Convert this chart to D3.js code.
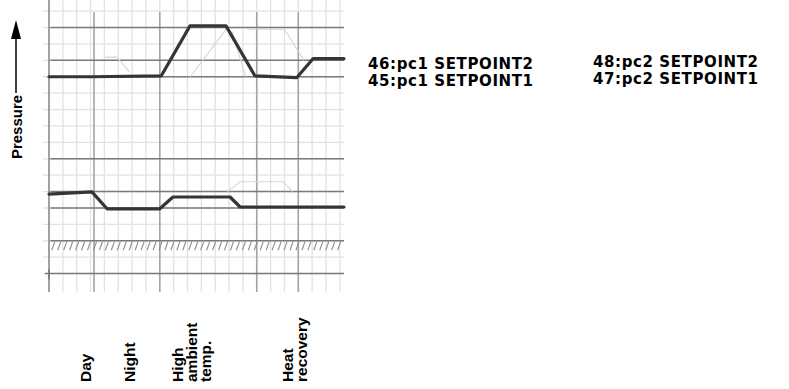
<!DOCTYPE html>
<html>
<head>
<meta charset="utf-8">
<script src="https://cdn.jsdelivr.net/npm/d3@7/dist/d3.min.js"></script>
<style>
  html, body { margin: 0; padding: 0; background: #fff; }
  svg { display: block; }
</style>
</head>
<body>
<svg id="chart" width="789" height="389"></svg>
<script>
// ---- data (x in graph-paper cells, y in pressure units = graph-paper rows) ----
const pc1X = [0, 3.1, 8.1, 10.18, 12.78, 14.87, 17.9, 19.06, 21.3];
const pc1Y = [13.0, 13.0, 13.05, 16.1, 16.1, 13.05, 12.95, 14.1, 14.1];

const pc2X = [0, 3.1, 4.19, 8.0, 8.95, 13.07, 13.8, 21.3];
const pc2Y = [5.85, 5.98, 4.95, 4.95, 5.67, 5.67, 5.06, 5.06];

const setpointLevels = [16, 14, 13, 8, 6, 5, 3, 1];
const eventX = [3.25, 8.0, 15.0, 18.0];

// faint pencil traces
const ghost1X = [10.2, 12.8];             const ghost1Y = [13.0, 15.9];
const ghost2X = [13.2, 14.2];             const ghost2Y = [15.8, 13.0];
const ghost3X = [14.3, 17.0, 18.4];       const ghost3Y = [15.9, 15.9, 14.0];
const ghost4X = [12.9, 13.8, 16.9, 17.6]; const ghost4Y = [6.0, 6.6, 6.6, 6.0];
const ghost5X = [4.0, 4.9, 5.8];          const ghost5Y = [14.2, 14.2, 13.3];

const catLabels = [
  { lines: ["Day"], x: 3.05 },
  { lines: ["Night"], x: 6.2 },
  { lines: ["High", "ambient", "temp."], x: 9.7 },
  { lines: ["Heat", "recovery"], x: 17.6 }
];

const legendLeft  = ["46:pc1 SETPOINT2", "45:pc1 SETPOINT1"];
const legendRight = ["48:pc2 SETPOINT2", "47:pc2 SETPOINT1"];

// ---- scales ----
const svg = d3.select("#chart");
const x = d3.scaleLinear().domain([0, 21.3]).range([49, 344]);
const y = d3.scaleLinear().domain([0, 17.68]).range([290, 0]);

// graph-paper minor grid
const g = svg.append("g");
g.selectAll(".vgrid").data(d3.range(1, 22)).join("line")
  .attr("x1", d => x(d)).attr("x2", d => x(d))
  .attr("y1", 0).attr("y2", 292)
  .attr("stroke", "#e2e2e2").attr("stroke-width", 1.3);
g.selectAll(".hgrid").data(d3.range(1, 18)).join("line")
  .attr("x1", 43).attr("x2", x(21.3))
  .attr("y1", d => y(d)).attr("y2", d => y(d))
  .attr("stroke", "#e2e2e2").attr("stroke-width", 1.3);

// event lines
g.selectAll(".ev").data(eventX).join("line")
  .attr("x1", d => x(d)).attr("x2", d => x(d))
  .attr("y1", y(16.95)).attr("y2", 292)
  .attr("stroke", "#a4a4a4").attr("stroke-width", 1.6);

// setpoint lines
g.selectAll(".sp").data(setpointLevels).join("line")
  .attr("x1", d => d === 1 ? 45 : x(0.1)).attr("x2", x(21.3))
  .attr("y1", d => y(d)).attr("y2", d => y(d))
  .attr("stroke", "#7a7a7a").attr("stroke-width", 1.5);

// axis
g.append("line").attr("x1", x(0)).attr("x2", x(0)).attr("y1", 0).attr("y2", 292)
  .attr("stroke", "#8a8a8a").attr("stroke-width", 1.6);
g.append("line").attr("x1", x(0)).attr("x2", x(0)).attr("y1", y(1) - 4).attr("y2", y(1) + 6)
  .attr("stroke", "#777").attr("stroke-width", 1.5);

// hatching under level 3
g.selectAll(".hatch").data(d3.range(0.2, 21.1, 0.43)).join("line")
  .attr("x1", d => x(d)).attr("x2", d => x(d + 0.22))
  .attr("y1", y(2.42)).attr("y2", y(2.95))
  .attr("stroke", "#8c8c8c").attr("stroke-width", 1.1);

// ghost traces
const line = d3.line().x(d => x(d[0])).y(d => y(d[1]));
[[ghost1X, ghost1Y], [ghost2X, ghost2Y], [ghost3X, ghost3Y], [ghost4X, ghost4Y], [ghost5X, ghost5Y]]
  .forEach(([gx, gy]) => {
    g.append("path").attr("d", line(gx.map((v, i) => [v, gy[i]])))
      .attr("fill", "none").attr("stroke", "#d6d6d6").attr("stroke-width", 1.1);
  });

// main traces
[[pc1X, pc1Y], [pc2X, pc2Y]].forEach(([px, py]) => {
  g.append("path").attr("d", line(px.map((v, i) => [v, py[i]])))
    .attr("fill", "none").attr("stroke", "#353535").attr("stroke-width", 3.2)
    .attr("stroke-linejoin", "round").attr("stroke-linecap", "round");
});

// y label + arrow
const font = "'Liberation Sans', Arial, sans-serif";
svg.append("text").attr("transform", "translate(21.5,127) rotate(-90)")
  .attr("text-anchor", "middle").attr("font-family", font).attr("font-weight", "bold")
  .attr("font-size", 15).attr("fill", "#000").text("Pressure");
svg.append("line").attr("x1", 16).attr("x2", 16).attr("y1", 93).attr("y2", 34)
  .attr("stroke", "#000").attr("stroke-width", 1.5);
svg.append("path").attr("d", "M16,20 L11,39 L21,39 Z").attr("fill", "#000");

// category labels
catLabels.forEach(c => {
  c.lines.forEach((t, i) => {
    svg.append("text")
      .attr("transform", `translate(${x(c.x) + i * 14},382) rotate(-90)`)
      .attr("font-family", font).attr("font-weight", "bold").attr("font-size", 15.5)
      .attr("fill", "#000").text(t);
  });
});

// legend
const lfont = "'DejaVu Sans', sans-serif";
legendLeft.forEach((t, i) => {
  svg.append("text").attr("x", 368).attr("y", 69 + i * 17)
    .attr("font-family", lfont).attr("font-weight", "bold").attr("font-size", 15)
    .attr("letter-spacing", 0.6).attr("fill", "#000").text(t);
});
legendRight.forEach((t, i) => {
  svg.append("text").attr("x", 593).attr("y", 67 + i * 17)
    .attr("font-family", lfont).attr("font-weight", "bold").attr("font-size", 15)
    .attr("letter-spacing", 0.6).attr("fill", "#000").text(t);
});
</script>
</body>
</html>
